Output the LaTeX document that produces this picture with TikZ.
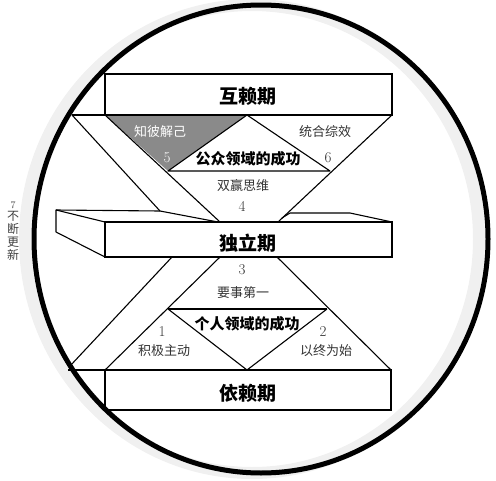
\documentclass[tikz,border=0pt]{standalone}
\usepackage{fontspec}
\newfontfamily\cjk{Noto Sans CJK SC}
\begin{document}
\begin{tikzpicture}[x=1pt,y=-1pt,
  ln/.style={line width=1.1pt, line join=round},
  boxln/.style={line width=1.3pt, line join=miter},
  title/.style={font=\cjk\bfseries\fontsize{19}{19}\selectfont},
  mid/.style={font=\cjk\bfseries\fontsize{15}{15}\selectfont},
  lab/.style={font=\cjk\fontsize{13}{13}\selectfont, text=black!80},
  num/.style={font=\fontsize{15}{15}\selectfont, text=black!80},
  side/.style={font=\cjk\fontsize{12}{13}\selectfont, text=black!75, align=center, inner sep=0pt},
]
\useasboundingbox (0,0) rectangle (496,480);
% shadow halo and circle
\draw[black!6, line width=12pt] (252,239) ellipse [x radius=227, y radius=234];
\draw[line width=5pt] (261,239) ellipse [x radius=227, y radius=234];

% ---------- upper part ----------
\fill[black!46] (105,115) -- (247,115) -- (168,171) -- cycle;
\draw[boxln] (105,74) rectangle (392,115);
\draw[ln] (72,115) -- (105,115);
\draw[ln] (72,115) -- (160,211) -- (218,222);
\draw[ln] (105,115) -- (220,222);
\draw[ln] (392,115) -- (278,222);
\draw[ln] (247,115) -- (168,171) -- (330,171) -- cycle;

% ---------- 3D box ----------
\draw[boxln] (105,222) rectangle (392,257);
\draw[ln] (105,222) -- (56,210) -- (56,232) -- (105,257);
\draw[ln] (56,210) -- (160,211);
\draw[ln] (282,218) -- (290,213) -- (350,213) -- (392,222);

% ---------- lower part ----------
\draw[ln] (172,257) -- (70,366);
\draw[ln] (68,370) -- (105,370);
\draw[ln] (220,257) -- (105,370);
\draw[ln] (277,257) -- (391,370);
\draw[ln] (168,309) -- (327,309);
\draw[ln] (168,309) -- (247,370) -- (327,309);
\draw[boxln] (105,370) rectangle (391,410);

% ---------- texts ----------
\node[title] (t1) at (248,96) {互赖期};
\node[title] (t2) at (248,243) {独立期};
\node[title] (t3) at (248,393) {依赖期};
\node[mid] (m1) at (248,159) {公众领域的成功};
\node[mid] (m2) at (247,324) {个人领域的成功};
\node[lab, text=white] (l5) at (160,132) {知彼解己};
\node[num, text=white] (n5) at (167,158) {5};
\node[lab] (l6) at (325,132) {统合综效};
\node[num] (n6) at (328,158) {6};
\node[lab] (l4) at (243,186) {双赢思维};
\node[num] (n4) at (242,206) {4};
\node[num] (n3) at (242,270) {3};
\node[lab] (l3) at (243,293) {要事第一};
\node[num] (n1) at (162,332) {1};
\node[lab] (l1) at (164,351) {积极主动};
\node[num] (n2) at (323,332) {2};
\node[lab] (l2) at (326,351) {以终为始};
\node[font=\fontsize{10}{10}\selectfont, text=black!75, inner sep=0pt] (s7) at (13,205) {7};
\node[side] (s8) at (13,235.5) {不\\断\\更\\新};
\end{tikzpicture}
\end{document}
